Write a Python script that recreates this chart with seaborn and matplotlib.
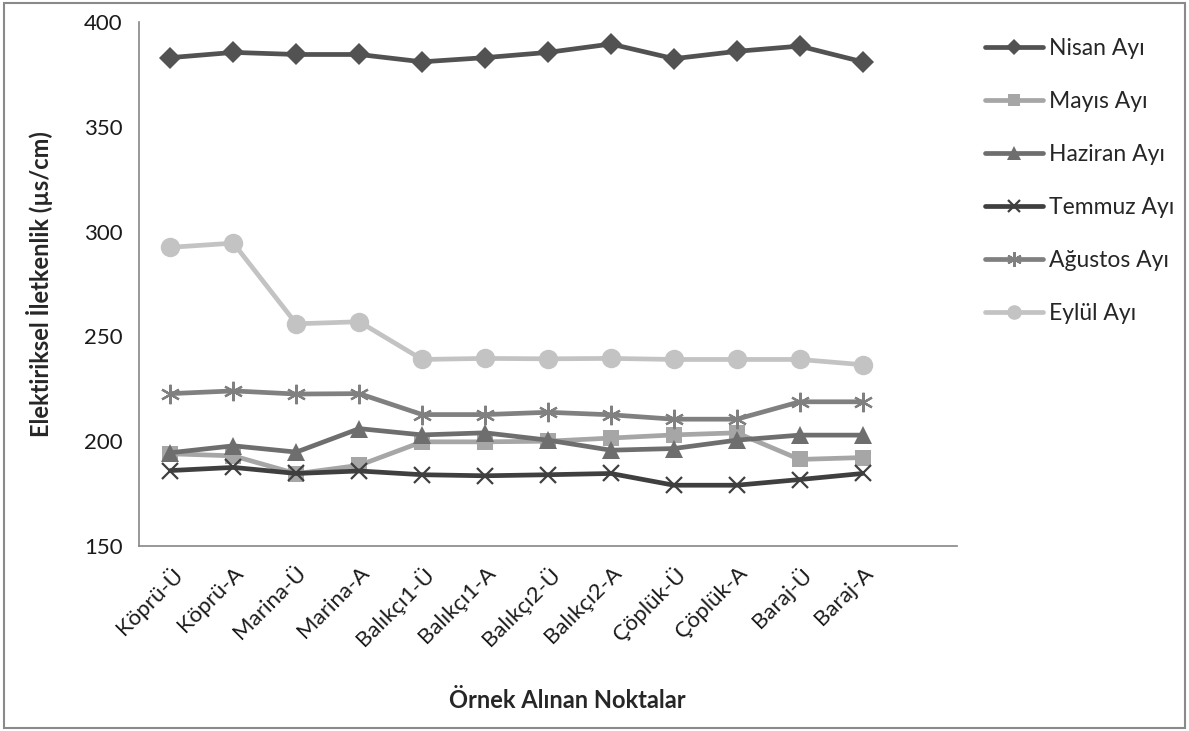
import matplotlib
matplotlib.use("Agg")
import matplotlib.pyplot as plt
from matplotlib.patches import Rectangle
import seaborn as sns
import numpy as np

# Sampling points
stations = ["Köprü-Ü", "Köprü-A", "Marina-Ü", "Marina-A", "Balıkçı1-Ü", "Balıkçı1-A",
            "Balıkçı2-Ü", "Balıkçı2-A", "Çöplük-Ü", "Çöplük-A", "Baraj-Ü", "Baraj-A"]

# Electrical conductivity (µs/cm) per month
nisan   = [383.0, 385.5, 384.5, 384.5, 381.0, 383.0, 385.5, 389.5, 382.5, 386.0, 388.5, 381.0]
mayis   = [194.0, 193.0, 184.5, 188.5, 199.7, 199.7, 200.0, 201.5, 203.0, 204.0, 191.3, 192.2]
haziran = [194.5, 197.8, 194.8, 206.0, 203.0, 204.0, 200.5, 195.7, 196.5, 200.5, 202.9, 202.9]
temmuz  = [186.0, 187.5, 184.6, 185.8, 184.0, 183.5, 184.0, 184.6, 179.0, 179.0, 181.7, 184.6]
agustos = [222.7, 224.0, 222.5, 222.7, 212.7, 212.7, 213.8, 212.6, 210.5, 210.5, 218.8, 218.8]
eylul   = [292.5, 294.5, 256.0, 257.0, 239.0, 239.5, 239.3, 239.5, 239.0, 239.0, 239.0, 236.5]

series_names = ["Nisan Ayı", "Mayıs Ayı", "Haziran Ayı", "Temmuz Ayı", "Ağustos Ayı", "Eylül Ayı"]
series_values = [nisan, mayis, haziran, temmuz, agustos, eylul]

styles = [
    dict(color="#525252", marker="D", markersize=11, mew=0),
    dict(color="#a6a6a6", marker="s", markersize=12, mew=0),
    dict(color="#6e6e6e", marker="^", markersize=13, mew=0),
    dict(color="#3f3f3f", marker="x", markersize=12, mew=1.6),
    dict(color="#808080", marker=(6, 2, 0), markersize=14, mew=1.6),
    dict(color="#c3c3c3", marker="o", markersize=14, mew=0),
]

sns.set_style("white")
plt.rcParams["font.family"] = ["Lato", "DejaVu Sans"]

fig = plt.figure(figsize=(11.89, 7.31), dpi=100)
ax = fig.add_axes([139 / 1189, 1 - 546 / 731, (957 - 139) / 1189, (546 - 22) / 731])

x = np.arange(len(stations))
for name, vals, st in zip(series_names, series_values, styles):
    sns.lineplot(x=x, y=vals, ax=ax, color=st["color"], marker=st["marker"],
                 markersize=st["markersize"], markeredgewidth=st["mew"],
                 markeredgecolor=st["color"], linewidth=3.4, label=name)

ax.set_xlim(-0.5, len(stations) + 0.5)
ax.set_ylim(150, 400)
ax.set_yticks([150, 200, 250, 300, 350, 400])
ax.set_xticks(x)
ax.set_xticklabels(stations, rotation=45, ha="right", rotation_mode="anchor", fontsize=16)
ax.set_xticks(np.arange(-0.5, len(stations) + 1.0, 1.0), minor=True)
ax.tick_params(axis="x", which="major", length=0, pad=12, labelcolor="#1a1a1a")
ax.tick_params(axis="x", which="minor", length=6, width=1, color="#868686", direction="out")
ax.tick_params(axis="y", length=6, width=1, color="#868686", direction="out",
               labelsize=16, labelcolor="#1a1a1a", pad=6)

for side in ["top", "right"]:
    ax.spines[side].set_visible(False)
for side in ["left", "bottom"]:
    ax.spines[side].set_color("#868686")
    ax.spines[side].set_linewidth(1.2)
ax.grid(False)

ax.set_xlabel("")
ax.set_ylabel("Elektiriksel İletkenlik (µs/cm)", fontsize=17, fontweight="bold", labelpad=22)
fig.text(567 / 1189, 1 - 700 / 731, "Örnek Alınan Noktalar", fontsize=17,
         fontweight="bold", ha="center", va="center")

leg = ax.legend(loc="upper left", bbox_to_anchor=(1.015, 1.0), frameon=False,
                fontsize=16.5, handlelength=2.5, handletextpad=0.3, labelspacing=1.4,
                markerscale=0.75, borderaxespad=0.3)

fig.patches.append(Rectangle((0.003, 0.004), 0.994, 0.992, transform=fig.transFigure,
                             fill=False, edgecolor="#8a8a8a", linewidth=1.5))

fig.savefig("out.png", dpi=100)
